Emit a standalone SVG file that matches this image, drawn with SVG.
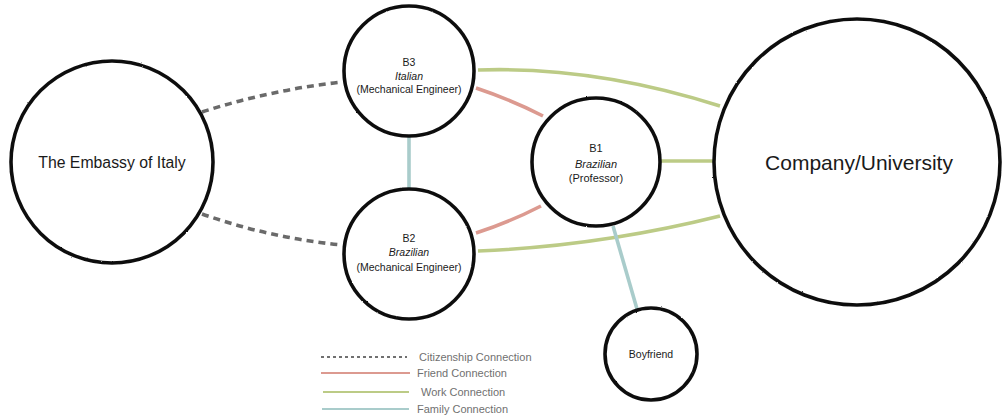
<svg xmlns="http://www.w3.org/2000/svg" width="1003" height="419" viewBox="0 0 1003 419">
<style>
  .node { fill: #fff; stroke: #111; stroke-width: 3.6; filter: url(#rough); }
  .lbl { font-family: "Liberation Sans", Arial, sans-serif; fill: #1a1a1a; text-anchor: middle; }
  .small { font-size: 10.5px; }
  .it { font-style: italic; }
  .conn { fill: none; stroke-width: 3.6; stroke-linecap: butt; filter: url(#rough2); }
  .cit { stroke: #6b6b6b; stroke-dasharray: 7 5; }
  .friend { stroke: #dc9a90; }
  .work { stroke: #bccb86; }
  .family { stroke: #a9cccb; }
  .leg { stroke-width: 2; fill: none; }
  .legtxt { font-family: "Liberation Sans", Arial, sans-serif; font-size: 11px; fill: #707070; }
</style>
<defs>
  <filter id="rough" x="-5%" y="-5%" width="110%" height="110%">
    <feTurbulence type="fractalNoise" baseFrequency="0.8" numOctaves="1" seed="3" result="n"/>
    <feDisplacementMap in="SourceGraphic" in2="n" scale="1.8" xChannelSelector="R" yChannelSelector="G"/>
  </filter>
  <filter id="rough2" filterUnits="userSpaceOnUse" x="0" y="0" width="1003" height="419">
    <feTurbulence type="fractalNoise" baseFrequency="0.9" numOctaves="1" seed="5" result="n"/>
    <feDisplacementMap in="SourceGraphic" in2="n" scale="1.4" xChannelSelector="R" yChannelSelector="G"/>
  </filter>
</defs>
<rect width="1003" height="419" fill="#fff"/>

<g id="connectors">
  <path class="conn cit" d="M202,112 Q270,90 342,82"/>
  <path class="conn cit" d="M202,214 Q270,238 342,245"/>
  <path class="conn family" d="M409,135 L409,189"/>
  <path class="conn friend" d="M476,88 Q512,100 543,116"/>
  <path class="conn friend" d="M476,233 Q510,222 541,206"/>
  <path class="conn work" d="M478,70 Q595,66 720,106"/>
  <path class="conn work" d="M660,161 L714,161"/>
  <path class="conn work" d="M478,251 Q600,246 720,216"/>
  <path class="conn family" d="M613,226 L637,309"/>
</g>

<g id="embassy">
  <circle class="node" cx="112" cy="162" r="101"/>
  <text class="lbl" x="112" y="168" font-size="15.8">The Embassy of Italy</text>
</g>
<g id="b3">
  <circle class="node" cx="409" cy="71" r="65"/>
  <text class="lbl small" x="409" y="66">B3</text>
  <text class="lbl small it" x="409" y="80">Italian</text>
  <text class="lbl small" x="409" y="93">(Mechanical Engineer)</text>
</g>
<g id="b2">
  <circle class="node" cx="409" cy="254" r="65"/>
  <text class="lbl small" x="409" y="242">B2</text>
  <text class="lbl small it" x="409" y="256">Brazilian</text>
  <text class="lbl small" x="409" y="271">(Mechanical Engineer)</text>
</g>
<g id="b1">
  <circle class="node" cx="596" cy="162" r="64"/>
  <text class="lbl" x="596" y="152" font-size="11">B1</text>
  <text class="lbl it" x="596" y="168" font-size="11">Brazilian</text>
  <text class="lbl" x="596" y="182" font-size="11">(Professor)</text>
</g>
<g id="company">
  <circle class="node" cx="857" cy="162" r="143"/>
  <text class="lbl" x="859" y="170" font-size="21">Company/University</text>
</g>
<g id="boyfriend">
  <circle class="node" cx="651" cy="354" r="46"/>
  <text class="lbl small" x="651" y="358">Boyfriend</text>
</g>

<g id="legend">
  <line class="leg" x1="321" y1="357" x2="407" y2="357" stroke="#707070" stroke-dasharray="3 3"/>
  <text class="legtxt" x="419" y="361">Citizenship Connection</text>
  <line class="leg friend" x1="321" y1="373" x2="410" y2="373"/>
  <text class="legtxt" x="417" y="377">Friend Connection</text>
  <line class="leg work" x1="323" y1="392" x2="409" y2="392"/>
  <text class="legtxt" x="421" y="396">Work Connection</text>
  <line class="leg family" x1="322" y1="409" x2="409" y2="409"/>
  <text class="legtxt" x="417" y="413">Family Connection</text>
</g>
</svg>
